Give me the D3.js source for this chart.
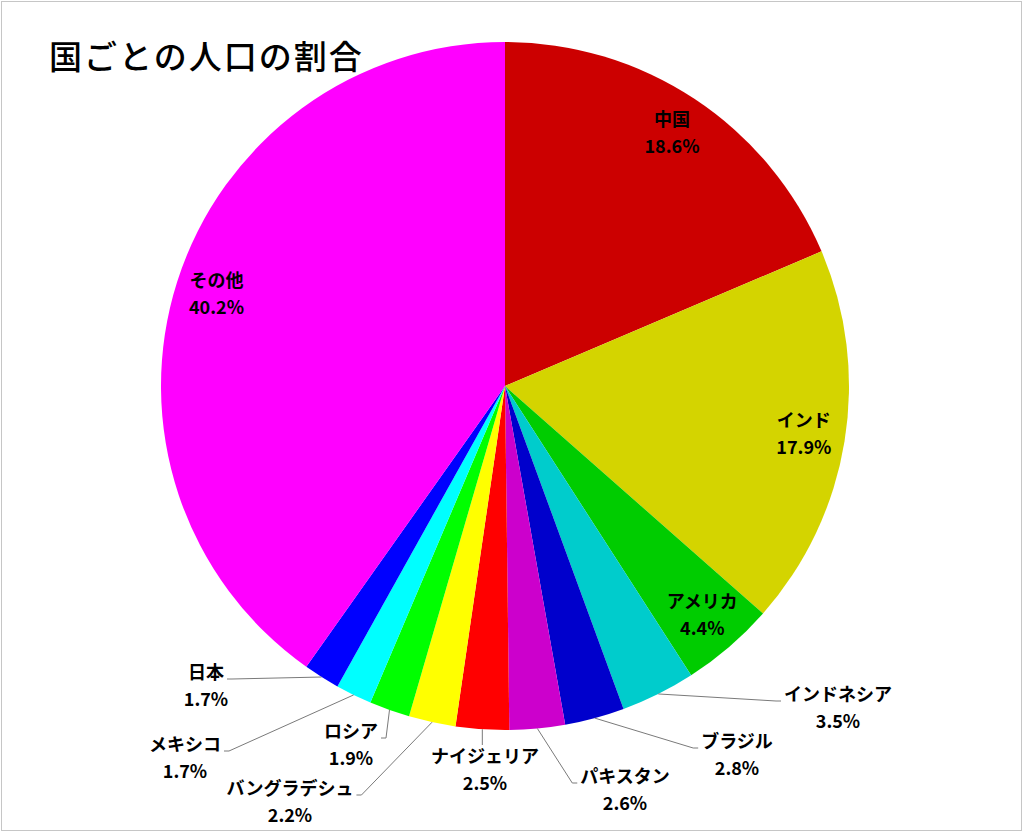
<!DOCTYPE html>
<html>
<head>
<meta charset="utf-8">
<script src="https://cdn.jsdelivr.net/npm/d3@7"></script>
<style>
  body { margin: 0; background: #fff; }
  text { font-family: "Noto Sans CJK JP", "Noto Sans", sans-serif; }
</style>
</head>
<body>
<svg id="chart" width="1024" height="833"></svg>
<script>
// data
var countries = ["中国", "インド", "アメリカ", "インドネシア", "ブラジル", "パキスタン",
                 "ナイジェリア", "バングラデシュ", "ロシア", "メキシコ", "日本", "その他"];
var shares = [18.6, 17.9, 4.4, 3.5, 2.8, 2.6, 2.5, 2.2, 1.9, 1.7, 1.7, 40.2];
var colors = ["#cc0000", "#d4d400", "#00cc00", "#00cccc", "#0000cc", "#cc00cc",
              "#ff0000", "#ffff00", "#00ff00", "#00ffff", "#0000ff", "#ff00ff"];

// label placement: "in" = inside the slice, otherwise offset of the name from pie centre
var labelLayout = {
    "中国": "in", "インド": "in", "アメリカ": "in", "その他": "in",
    "インドネシア": {dx: 333, dy: 309, side: "right"},
    "ブラジル": {dx: 232, dy: 356, side: "right"},
    "パキスタン": {dx: 120, dy: 391, side: "right"},
    "ナイジェリア": {dx: -20, dy: 371, side: "top"},
    "バングラデシュ": {dx: -215, dy: 403, side: "left"},
    "ロシア": {dx: -154, dy: 346, side: "left"},
    "メキシコ": {dx: -320, dy: 359, side: "left"},
    "日本": {dx: -299, dy: 287, side: "left"}
};

var svg = d3.select("#chart"),
    cx = 505, cy = 386, radius = 344;

svg.append("rect")
    .attr("x", 1.5).attr("y", 1.5)
    .attr("width", 1020).attr("height", 829)
    .attr("fill", "#fff")
    .attr("stroke", "#c6c6c6")
    .attr("stroke-width", 1);

svg.append("text")
    .attr("x", 49).attr("y", 69)
    .attr("font-size", "33px")
    .attr("font-weight", 500)
    .attr("letter-spacing", "2px")
    .attr("fill", "#000")
    .text("国ごとの人口の割合");

var data = countries.map(function (c, i) { return {name: c, value: shares[i], color: colors[i]}; });

var pie = d3.pie().sort(null).value(function (d) { return d.value; });
var arc = d3.arc().innerRadius(0).outerRadius(radius);
var labelArc = d3.arc().innerRadius(radius * 0.88).outerRadius(radius * 0.88);

var g = svg.append("g")
    .attr("transform", "translate(" + cx + "," + cy + ")");

var arcs = pie(data);

g.selectAll(".slice")
    .data(arcs)
    .enter().append("path")
    .attr("class", "slice")
    .attr("d", arc)
    .attr("fill", function (d) { return d.data.color; });

var labels = g.append("g");

arcs.forEach(function (d) {
    var lay = labelLayout[d.data.name];
    var pct = d.data.value.toFixed(1) + "%";
    var lx, ly;
    if (lay === "in") {
        var c = labelArc.centroid(d);
        lx = c[0]; ly = c[1] - 14;
    } else {
        lx = lay.dx; ly = lay.dy;
    }
    var t1 = labels.append("text")
        .attr("x", lx).attr("y", ly)
        .attr("dy", "0.35em")
        .attr("text-anchor", "middle")
        .attr("font-size", "18px")
        .attr("font-weight", "bold")
        .text(d.data.name);
    labels.append("text")
        .attr("x", lx).attr("y", ly + 27)
        .attr("dy", "0.35em")
        .attr("text-anchor", "middle")
        .attr("font-size", "18px")
        .attr("font-weight", "bold")
        .text(pct);

    if (lay === "in") return;

    // leader line from the slice edge to the label
    var mid = (d.startAngle + d.endAngle) / 2;
    var sx = radius * Math.sin(mid), sy = -radius * Math.cos(mid);
    var w = t1.node().getComputedTextLength();
    var pts;
    if (lay.side === "top") {
        pts = [[sx, sy], [sx, ly - 12]];
    } else if (lay.side === "left") {
        var ex = lx + w / 2 + 3, ey = ly + 6;
        pts = [[sx, sy], [ex + 5, ey], [ex, ey]];
    } else {
        var ex2 = lx - w / 2 - 3, ey2 = ly + 6;
        pts = [[sx, sy], [ex2 - 5, ey2], [ex2, ey2]];
    }
    labels.append("path")
        .attr("d", d3.line()(pts))
        .attr("fill", "none")
        .attr("stroke", "#7a7a7a")
        .attr("stroke-width", 1);
});
</script>
</body>
</html>
